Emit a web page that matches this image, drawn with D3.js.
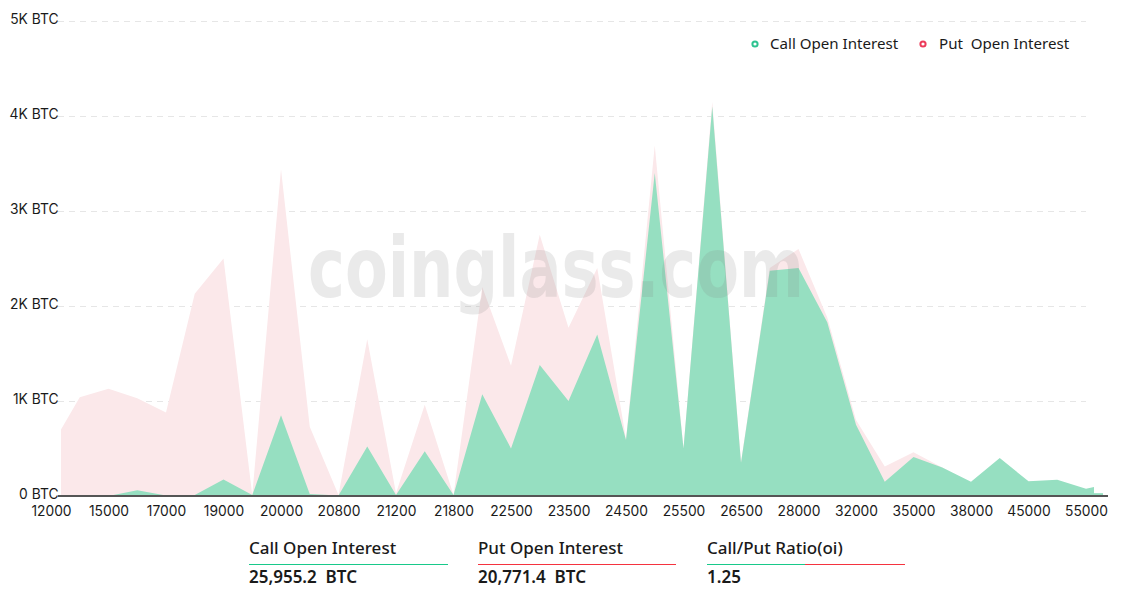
<!DOCTYPE html>
<html><head><meta charset="utf-8">
<script src="https://cdn.jsdelivr.net/npm/d3@7"></script>
<style>
html,body{margin:0;padding:0;background:#fff}
svg{display:block}
text{white-space:pre}
</style></head><body>
<svg id="c" width="1124" height="596"></svg>
<script>
const strikes=[12000,13000,15000,16000,17000,18000,19000,19500,20000,20400,20800,21000,21200,21500,21800,22000,22500,23000,23500,24000,24500,25000,25500,26000,26500,27000,28000,30000,32000,34000,35000,36000,38000,40000,45000,50000,55000,60000];
const callOI=[0,0,0,0.06,0.005,0.01,0.175,0.01,0.85,0.02,0.005,0.52,0.01,0.47,0.01,1.07,0.5,1.38,1.0,1.7,0.59,3.4,0.5,4.1,0.35,2.37,2.4,1.83,0.75,0.15,0.41,0.3,0.15,0.4,0.155,0.17,0.077,0.14];
const putOI=[0.52,1.04,1.13,1.03,0.88,2.13,2.5,0.01,3.44,0.73,0.01,1.65,0.03,0.96,0.01,2.2,1.37,2.75,1.77,2.4,0.6,3.69,0.5,4.15,0.36,2.4,2.6,1.88,0.8,0.31,0.46,0.3,0.14,0.38,0.15,0.16,0.07,0.05];
const tailCall=[0.03,0.03];
const yTicks=[0,1,2,3,4,5];
const xTickLabels=[12000,15000,17000,19000,20000,20800,21200,21800,22500,23500,24500,25500,26500,28000,32000,35000,38000,45000,55000];
const legendLabels=["Call Open Interest","Put  Open Interest"];
const summaryTitles=["Call Open Interest","Put Open Interest","Call/Put Ratio(oi)"];
const summaryValues=["25,955.2  BTC","20,771.4  BTC","1.25"];

const GREEN="#96dfc1",PINK="#fbe8ea",LINE_G="#18c98a",LINE_R="#f5333f";
const AXIS_FONT='"Noto Sans",sans-serif';
const TICK_FONT='Inter,sans-serif';
const svg=d3.select("#c");
const x=d3.scalePoint().domain(strikes).range([51,1114.75]);
const y=d3.scaleLinear().domain([0,5]).range([496,21]);

const defs=svg.append("defs");
defs.append("clipPath").attr("id","plot").append("rect").attr("x",61).attr("y",0).attr("width",1033).attr("height",496);
defs.append("clipPath").attr("id","tail").append("rect").attr("x",1094).attr("y",0).attr("width",9).attr("height",496);

// grid
svg.append("g").selectAll("line").data(yTicks.filter(d=>d>0)).join("line")
 .attr("x1",58).attr("x2",1086).attr("y1",d=>y(d)+.5).attr("y2",d=>y(d)+.5)
 .attr("stroke","#e6e6e6").attr("stroke-width",1).attr("stroke-dasharray","6 5");

const area=d3.area().x((d,i)=>x(strikes[i])).y0(y(0)).y1(d=>y(d));
svg.append("path").datum(putOI).attr("d",area).attr("fill",PINK).attr("clip-path","url(#plot)");
svg.append("path").datum(callOI).attr("d",area).attr("fill",GREEN).attr("clip-path","url(#plot)");
const tailArea=d3.area().x((d,i)=>x(strikes[strikes.length-2+i])).y0(y(0)).y1(d=>y(d));
svg.append("path").datum(tailCall).attr("d",tailArea).attr("fill",GREEN).attr("clip-path","url(#tail)");

// watermark
svg.append("text").attr("x",308).attr("y",297).text("coinglass.com")
 .attr("font-family","'DejaVu Sans',sans-serif").attr("font-weight",700).attr("font-size",84)
 .attr("textLength",496).attr("lengthAdjust","spacingAndGlyphs")
 .attr("fill","#808080").attr("fill-opacity",.17);

// axes
const xAxis=d3.axisBottom(x).tickValues(xTickLabels).tickSize(0).tickPadding(10);
const gx=svg.append("g").attr("transform","translate(0,496)").call(xAxis);
gx.select(".domain").remove();
gx.selectAll("text").attr("font-family",TICK_FONT).attr("font-size",13.8).attr("fill","#1a1a1a");
svg.append("line").attr("x1",58).attr("x2",1108).attr("y1",496).attr("y2",496).attr("stroke","#555").attr("stroke-width",2);

const yAxis=d3.axisLeft(y).tickValues(yTicks).tickSize(0).tickPadding(0).tickFormat(d=>d===0?"0 BTC":d+"K BTC");
const gy=svg.append("g").attr("transform","translate(58.5,-2)").call(yAxis);
gy.select(".domain").remove();
gy.selectAll("text").attr("font-family",TICK_FONT).attr("font-size",13.8).attr("fill","#1a1a1a");

// legend
const lg=svg.append("g");
[[755,770,"#2fc391"],[923,939,"#ec3b5a"]].forEach((p,i)=>{
 lg.append("circle").attr("cx",p[0]).attr("cy",44).attr("r",2.6).attr("fill","#fff").attr("stroke",p[2]).attr("stroke-width",2);
 lg.append("text").attr("x",p[1]).attr("y",49).text(legendLabels[i]).attr("font-family",AXIS_FONT).attr("font-size",15.1).attr("fill","#1a1a1a");
});

// summary
const SUM_FONT='"Noto Sans",sans-serif';
[249,478,707].forEach((sx,i)=>{
 svg.append("text").attr("x",sx).attr("y",554).text(summaryTitles[i]).attr("font-family",SUM_FONT).attr("font-weight",500).attr("font-size",17).attr("fill","#1a1a1a");
 svg.append("text").attr("x",sx).attr("y",583).text(summaryValues[i]).attr("font-family",SUM_FONT).attr("font-weight",600).attr("font-size",17).attr("fill","#1a1a1a");
});
const rule=(a,b,c)=>svg.append("line").attr("x1",a).attr("x2",b).attr("y1",564.5).attr("y2",564.5).attr("stroke",c).attr("stroke-width",1);
rule(249,448,LINE_G);rule(478,676,LINE_R);rule(707,805,LINE_G);rule(805,905,LINE_R);
</script></body></html>
